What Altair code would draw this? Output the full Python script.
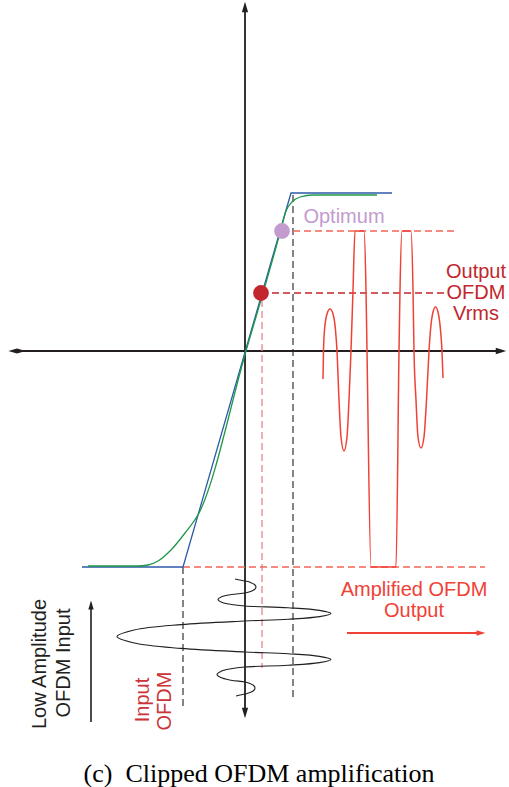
import altair as alt
import pandas as pd

# ---- diagram data (origin = axis crossing, x right, y up) ----
BLUE_X = [-163, -62, 46, 147]
BLUE_Y = [-216, -216, 158, 158]

GREEN_X = [-157, -108, -97, -87, -74, -60, -46, 1, 33, 37, 41, 47, 55, 68, 132]
GREEN_Y = [-215, -215, -214, -210, -199, -182, -162, 0, 111, 126, 140, 149, 154, 156, 156]

OUT_X = [78, 78.5, 79.5, 82, 85, 88, 90.5, 92, 94, 96, 99, 102, 104, 106, 108, 110, 119, 121, 122,
         126, 151, 154, 155, 157, 166, 168, 169, 171, 173, 176, 179, 181.5, 184, 185.5, 188, 190.5,
         193, 195.5, 197, 198]
OUT_Y = [-28, 0, 21, 37, 42, 37, 21, 0, -49, -86, -100, -86, -49, 0, 61, 120, 120, 61, 0,
         -216, -216, 0, 61, 120, 120, 61, 0, -49, -86, -97, -86, -49, 0, 21, 39, 44,
         39, 21, 0, -27]

IN_X = [-10, 0,
        5.5, 9.5, 11, 9.5, 5.5, 0,
        -13.5, -23.4, -27, -23.4, -13.5, 0,
        43, 74.5, 86, 74.5, 43, 0,
        -64, -110.8, -128, -110.8, -64, 0,
        43, 74.5, 86, 74.5, 43, 0,
        -14, -24.2, -28, -24.2, -14, 0,
        5, 8.7, 10, 8.7, 5, 0, -9]
IN_Y = [-228, -230,
        -231.4, -233.5, -236, -238.5, -240.6, -242,
        -243.5, -245.8, -248.5, -251.2, -253.5, -255,
        -256.8, -259.4, -262.5, -265.6, -268.2, -270,
        -273.6, -279, -285.5, -292, -297.4, -301,
        -302.8, -305.4, -308.5, -311.6, -314.2, -316,
        -317.8, -320.4, -323.5, -326.6, -329.2, -331,
        -332.4, -334.5, -337, -339.5, -341.6, -343, -345]

POINT_NAMES = ["Optimum", "Vrms"]
POINT_X = [37, 16]
POINT_Y = [120, 58]
POINT_COLORS = ["#c39bcf", "#c1272d"]

XS = alt.Scale(domain=[-245, 264], nice=False, zero=False)
YS = alt.Scale(domain=[-436, 351], nice=False, zero=False)


def enc(ch):
    return ch.encode(
        x=alt.X("x:Q", scale=XS, axis=None),
        y=alt.Y("y:Q", scale=YS, axis=None),
    )


def path(xs, ys, color, width=1.2, dash=None, interp="linear"):
    df = pd.DataFrame({"x": xs, "y": ys, "o": list(range(len(xs)))})
    kw = dict(color=color, strokeWidth=width, interpolate=interp)
    if dash:
        kw["strokeDash"] = dash
    return enc(alt.Chart(df).mark_line(**kw)).encode(order="o:Q")


def head(x, y, angle, color, size=90, shape="M0,-1L0.6,1L-0.6,1Z"):
    df = pd.DataFrame({"x": [x], "y": [y]})
    return enc(alt.Chart(df).mark_point(shape=shape, filled=True, color=color, opacity=1,
                                        size=size, angle=angle, strokeWidth=0))


def label(lines, x, y, color, size=20, angle=0, font="Liberation Sans", dy_step=21):
    rows = []
    for i, t in enumerate(lines):
        rows.append({"x": x, "y": y - i * dy_step, "t": t})
    df = pd.DataFrame(rows)
    kw = dict(font=font, fontSize=size, color=color, align="center", baseline="middle")
    if angle:
        kw["angle"] = angle
    return enc(alt.Chart(df).mark_text(**kw)).encode(text="t:N")


BLACK = "#231f20"
RED = "#ef4136"
LRED = "#f26657"
DRED = "#c1272d"
DASH = [7, 4]

layers = [
    # axes
    path([0, 0], [340, -358], BLACK, 1.8),
    path([-230, 254], [0, 0], BLACK, 1.8),
    head(0, 344, 0, BLACK, 110),
    head(0, -362, 180, BLACK, 110),
    head(256, 0, 90, BLACK, 110),
    head(-228, 0, 0, BLACK, 300, shape="M-1,0L0,-0.3L1,0L0,0.3Z"),
    # dashed guides
    path([48, 48], [156, -346], BLACK, 1.1, DASH),
    path([-62, -62], [-216, -356], BLACK, 1.1, DASH),
    path([17, 17], [51, -317], "#e8858a", 1.3, DASH),
    path([37, 212], [120, 120], LRED, 1.3, DASH),
    path([16, 202], [58, 58], DRED, 1.3, DASH),
    path([-62, 240], [-216, -216], LRED, 1.3, DASH),
    # transfer curves
    path(BLUE_X, BLUE_Y, "#2d5aa8", 1.3),
    path(GREEN_X, GREEN_Y, "#1e9848", 1.3, interp="monotone"),
    # waveforms
    path(OUT_X, OUT_Y, RED, 1.5, interp="monotone"),
    path(IN_X, IN_Y, BLACK, 1.1, interp="catmull-rom"),
    # arrows
    path([-154, -154], [-371, -258], BLACK, 1.6),
    head(-154, -254, 0, BLACK, 80),
    path([102, 234], [-282, -282], RED, 2),
    head(236, -282, 90, RED, 80),
]

pts = pd.DataFrame({"x": POINT_X, "y": POINT_Y, "n": POINT_NAMES, "c": POINT_COLORS})
layers.append(enc(alt.Chart(pts).mark_circle(size=250, opacity=1)).encode(
    color=alt.Color("c:N", scale=None)))

layers += [
    label(["Optimum"], 99, 134, "#c39bcf"),
    label(["Output", "OFDM", "Vrms"], 231, 79, DRED),
    label(["Amplified OFDM", "Output"], 169, -239, RED),
    alt.layer(
        label(["Low Amplitude"], -205, -313, BLACK, angle=270),
        label(["OFDM Input"], -181, -312, BLACK, angle=270),
        label(["Input"], -102, -349, "#cc3338", angle=270),
        label(["OFDM"], -80, -350, "#cc3338", angle=270),
    ),
    label(["(c)\u2002Clipped OFDM amplification"], 14, -423, "#000000", size=26,
          font="Liberation Serif"),
]

chart = alt.layer(*layers).properties(
    width=509, height=787, autosize=alt.AutoSizeParams(type="none"), padding=0,
    background="white",
).configure_view(stroke=None)

chart.save("out.html", embed_options={"renderer": "svg", "actions": False})
